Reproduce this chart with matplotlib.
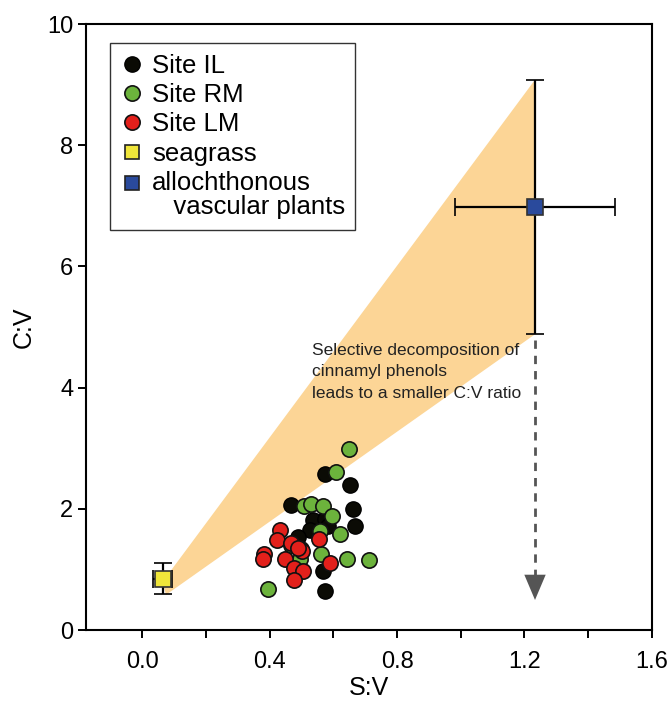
import matplotlib
matplotlib.use("Agg")
import matplotlib.pyplot as plt
from matplotlib.lines import Line2D
from matplotlib.legend_handler import HandlerLine2D
from matplotlib.patches import Polygon
import numpy as np

plt.rcParams["font.family"] = ["Liberation Sans", "DejaVu Sans"]

# Site samples (S:V, C:V)
il_sv = [0.574, 0.652, 0.466, 0.663, 0.537, 0.574, 0.668, 0.584, 0.527, 0.488, 0.567, 0.574]
il_cv = [2.57, 2.40, 2.07, 1.99, 1.82, 1.84, 1.72, 1.71, 1.65, 1.54, 0.98, 0.64]

rm_sv = [0.649, 0.609, 0.508, 0.530, 0.569, 0.595, 0.558, 0.621, 0.561, 0.644, 0.712,
         0.396, 0.496, 0.466, 0.500]
rm_cv = [2.99, 2.60, 2.05, 2.08, 2.05, 1.88, 1.64, 1.58, 1.25, 1.17, 1.16,
         0.68, 1.18, 1.40, 1.33]

lm_sv = [0.433, 0.425, 0.466, 0.501, 0.488, 0.383, 0.380, 0.449, 0.555, 0.590,
         0.478, 0.506, 0.478]
lm_cv = [1.65, 1.48, 1.43, 1.31, 1.36, 1.25, 1.18, 1.17, 1.51, 1.10,
         1.02, 0.97, 0.82]

# end members: mean and error
seagrass = (0.065, 0.85)
seagrass_err = (0.03, 0.26)
vascular = (1.233, 6.98)
vascular_err = (0.25, 2.1)

# shaded mixing wedge corners
wedge_sv = [0.065, 1.233, 1.233, 0.075]
wedge_cv = [0.80, 9.08, 4.88, 0.58]

arrow_bottom = 0.45

x_ticks = [0.0, 0.2, 0.4, 0.6, 0.8, 1.0, 1.2, 1.4, 1.6]
x_tick_labels = ["0.0", "", "0.4", "", "0.8", "", "1.2", "", "1.6"]
y_ticks = [0, 2, 4, 6, 8, 10]

legend_labels = ["Site IL", "Site RM", "Site LM", "seagrass", "allochthonous\n   vascular plants"]
note = "Selective decomposition of\ncinnamyl phenols\nleads to a smaller C:V ratio"

c_il = "#0b0b05"
c_rm = "#6cb33c"
c_lm = "#e3201b"
c_sea = "#f0e63a"
c_vas = "#2a4a9c"
c_wedge = "#fcd596"


class RaisedHandler(HandlerLine2D):
    # puts the marker next to the first line of a two-line label
    def __init__(self, shift, **kw):
        super().__init__(**kw)
        self.shift = shift

    def create_artists(self, legend, orig_handle, xdescent, ydescent, width, height,
                       fontsize, trans):
        arts = super().create_artists(legend, orig_handle, xdescent, ydescent, width,
                                      height, fontsize, trans)
        for a in arts:
            a.set_ydata(np.asarray(a.get_ydata()) + self.shift)
        return arts


fig = plt.figure(figsize=(6.7, 7.06), dpi=100)
ax = fig.add_axes([0.1278, 0.1076, 0.8453, 0.8584])

ax.add_patch(Polygon(np.column_stack([wedge_sv, wedge_cv]), closed=True,
                     facecolor=c_wedge, edgecolor="none", zorder=1))

# dashed arrow from the lower end of the vascular plant error bar
ax.plot([vascular[0], vascular[0]], [vascular[1] - vascular_err[1] - 0.1, arrow_bottom + 0.3],
        color="#555555", lw=2.0, linestyle=(0, (3, 2.5)), zorder=2)
ax.annotate("", xy=(vascular[0], arrow_bottom), xytext=(vascular[0], arrow_bottom + 0.45),
            arrowprops=dict(arrowstyle="-|>,head_length=1.3,head_width=0.55",
                            color="#555555", lw=0, mutation_scale=14),
            zorder=2)

ax.text(0.532, 4.74, note, fontsize=12.5, color="#222222", va="top", ha="left",
        linespacing=1.55, zorder=3)

ms = 11
ax.plot(il_sv, il_cv, "o", ms=ms, mfc=c_il, mec="#000000", mew=1.0, zorder=4)
ax.plot(rm_sv, rm_cv, "o", ms=ms, mfc=c_rm, mec="#111111", mew=1.2, zorder=5)
ax.plot(lm_sv, lm_cv, "o", ms=ms, mfc=c_lm, mec="#111111", mew=1.2, zorder=6)

ax.errorbar([seagrass[0]], [seagrass[1]], xerr=[seagrass_err[0]], yerr=[seagrass_err[1]],
            fmt="s", ms=11.5, mfc=c_sea, mec="#333333", mew=1.2, ecolor="#000000",
            elinewidth=1.6, capsize=6.5, capthick=1.6, zorder=7)
ax.errorbar([vascular[0]], [vascular[1]], xerr=[vascular_err[0]], yerr=[vascular_err[1]],
            fmt="s", ms=11, mfc=c_vas, mec="#333333", mew=1.2, ecolor="#000000",
            elinewidth=1.6, capsize=6.5, capthick=1.6, zorder=7)

ax.set_xlim(-0.177, 1.6)
ax.set_ylim(0, 10)
ax.set_xticks(x_ticks)
ax.set_xticklabels(x_tick_labels)
ax.set_yticks(y_ticks)
ax.tick_params(direction="out", length=6, width=1.4, labelsize=17, colors="#000000")
ax.tick_params(axis="x", pad=9)
ax.tick_params(axis="y", pad=3)
for sp in ax.spines.values():
    sp.set_linewidth(1.5)
    sp.set_color("#000000")

ax.set_xlabel("S:V", fontsize=18, labelpad=2)
ax.set_ylabel("C:V", fontsize=18, labelpad=8)

handles = [
    Line2D([], [], ls="none", marker="o", ms=11, mfc=c_il, mec="#000000"),
    Line2D([], [], ls="none", marker="o", ms=11, mfc=c_rm, mec="#111111", mew=1.2),
    Line2D([], [], ls="none", marker="o", ms=11, mfc=c_lm, mec="#111111", mew=1.2),
    Line2D([], [], ls="none", marker="s", ms=10, mfc=c_sea, mec="#222222", mew=1.2),
    Line2D([], [], ls="none", marker="s", ms=10, mfc=c_vas, mec="#222222", mew=1.2),
]
leg = ax.legend(handles, legend_labels, loc="upper left", bbox_to_anchor=(0.043, 0.968),
                borderaxespad=0, fancybox=False, frameon=True, edgecolor="#000000",
                handlelength=0.9, handletextpad=0.33, labelspacing=0.21,
                borderpad=0.4, prop={"size": 18.5},
                handler_map={handles[4]: RaisedHandler(shift=9)})
leg.get_frame().set_linewidth(1.0)
for t in leg.get_texts():
    t.set_linespacing(1.0)
leg.set_zorder(10)

fig.savefig("out.png", dpi=100)
